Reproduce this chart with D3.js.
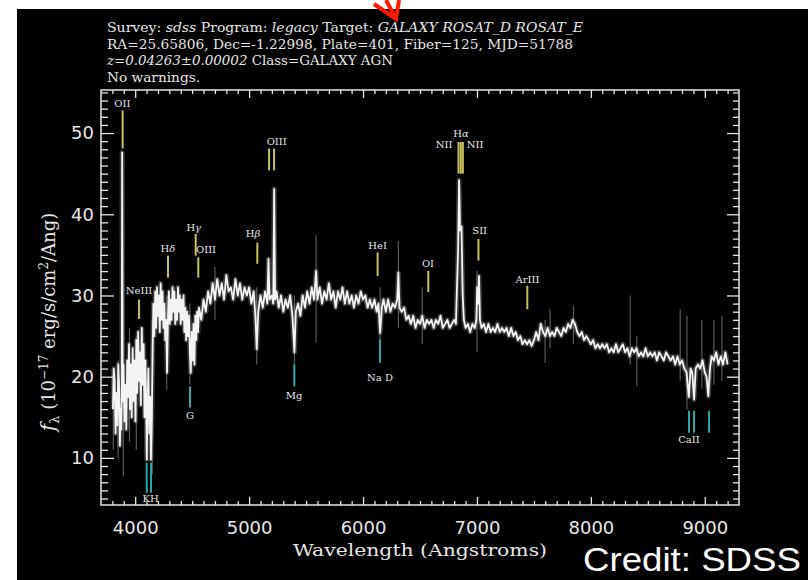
<!DOCTYPE html>
<html><head><meta charset="utf-8">
<script src="https://cdn.jsdelivr.net/npm/d3@7"></script>
<style>
html,body{margin:0;padding:0;background:#fff;}
svg{display:block;}
</style></head>
<body>
<svg id="c" width="808" height="580"></svg>
<script>
// ---------- data ----------
const wave = [
3805,3812,3820,3828,3836,3844,3852,3860,3866,3872,3878,3882,
3886,3891,3898,3906,3914,3922,3930,3938,3946,3954,3962,3970,
3978,3986,3994,4002,4010,4018,4026,4034,4042,4050,4058,4066,
4074,4082,4090,4096,4102,4108,4116,4124,4132,4138,4146,4154,
4160,4168,4176,4184,4192,4200,4208,4216,4224,4232,4240,4248,
4256,4264,4272,4280,4288,4296,4304,4312,4320,4328,4336,4344,
4352,4360,4368,4376,4384,4392,4400,4408,4416,4424,4432,4440,
4448,4456,4464,4472,4480,4488,4496,4504,4512,4520,4528,4536,
4544,4552,4560,4580,4600,
4620,4640,4660,4680,4700,4720,4740,4760,4780,4800,4820,4840,4860,4880,4900,4920,4940,4960,4980,5000,5020,5040,5055,5067,5080,5100,
5120,5140,5160,5170,5180,5200,5212,5220,5228,5240,5260,5280,5300,5320,5340,5360,5380,5398,5410,5430,5450,5470,5490,5510,5530,5550,
5570,5588,5600,5620,5640,5660,5680,5700,5720,5740,5760,5780,5800,5820,5840,5860,5880,5900,5920,5940,5960,5980,6000,6020,6040,6060,
6080,6100,6120,6135,6150,6165,6180,6200,6220,6240,6260,6280,6300,6310,6320,6340,6360,6380,6400,6420,6440,6460,6480,6500,6520,6540,
6560,6580,6600,6620,6640,6660,6680,6700,6720,6740,6760,6780,6800,6815,6827,6835,6843,6852,6864,6875,6885,6900,6920,6940,6960,6980,
6995,7002,7010,7018,7026,7040,7060,7080,7100,7120,7140,7160,7180,7200,7220,7240,7260,7280,7300,7320,7340,7360,7380,7400,7420,7440,
7460,7480,7500,7520,7540,7560,7580,7600,7620,7640,7660,7680,7700,7720,7740,7760,7780,7800,7820,7840,7860,7880,7900,7920,7940,7960,
7980,8000,8020,8040,8060,8080,8100,8120,8140,8160,8180,8200,8220,8240,8260,8280,8300,8320,8340,8360,8380,8400,8420,8440,8460,8480,
8500,8520,8540,8560,8580,8600,8620,8640,8660,8680,8700,8720,8740,8760,8780,8800,8820,8840,8860,8875,8890,8906,8920,8940,8960,8980,
9000,9015,9031,9045,9060,9080,9100,9120,9140,9160,9180,9200];
const flux = [
16.0,21.0,19.5,13.0,18.0,14.0,21.5,18.5,11.5,16.0,13.5,18.0,
47.6,17.0,21.5,14.5,19.0,13.5,22.0,17.5,24.0,16.0,21.5,15.0,
23.5,17.0,22.0,14.5,24.5,18.0,25.5,19.5,23.0,16.5,26.0,19.0,
24.0,15.0,22.0,17.0,9.8,16.0,21.0,13.0,17.5,9.8,15.0,24.0,
29.0,25.0,30.5,26.0,31.0,27.5,30.0,25.5,31.5,27.0,30.5,26.0,
29.0,24.5,27.0,20.5,27.5,30.5,26.5,29.5,27.0,31.0,28.0,30.5,
26.5,29.5,27.0,31.0,28.0,30.0,26.5,29.5,27.0,30.0,25.5,28.5,
24.5,28.0,25.0,27.5,23.0,20.5,25.5,22.0,26.5,21.5,27.5,24.5,
28.0,25.5,28.5,27.0,29.5,
28.0,30.5,29.0,31.5,29.5,32.0,30.0,31.5,29.5,32.5,30.5,31.0,29.5,32.0,30.0,31.5,29.5,31.0,30.0,31.0,29.0,30.5,27.5,23.4,28.0,30.0,
28.5,30.5,29.0,34.5,29.5,30.0,29.0,43.1,29.5,30.5,28.5,30.0,28.0,29.5,28.5,30.0,27.5,23.0,28.0,29.0,27.5,30.0,28.5,30.5,29.0,31.0,
29.5,33.0,29.5,31.0,29.0,30.5,29.5,31.5,29.5,30.5,28.5,30.5,29.5,31.0,29.0,30.5,29.0,30.0,28.5,30.0,29.0,30.5,29.5,30.0,28.5,29.5,
28.5,29.5,28.0,29.0,25.4,28.5,29.5,28.0,29.5,28.0,29.0,28.5,29.5,32.8,28.5,28.0,28.5,27.0,27.5,26.5,27.5,26.0,27.0,26.5,27.5,26.0,
27.0,26.5,27.0,26.0,27.0,26.5,27.5,26.0,26.5,27.0,26.0,26.5,27.0,26.5,32.0,36.0,44.2,38.0,38.5,30.0,27.0,26.0,26.5,25.5,26.5,26.0,
27.0,31.0,29.0,32.4,27.0,26.0,26.5,25.5,26.5,25.5,26.0,25.5,26.5,25.5,26.0,25.5,26.0,25.0,26.0,25.0,25.5,24.5,25.0,24.0,24.5,24.0,
24.5,23.8,24.5,25.5,24.5,26.5,25.5,25.0,26.0,25.0,25.5,25.0,26.0,25.5,25.0,26.0,25.5,26.5,26.0,27.0,26.5,25.5,25.0,25.5,24.5,25.0,
24.5,24.0,24.5,23.5,24.0,23.5,24.0,23.5,24.0,23.0,23.5,23.0,24.0,23.0,23.5,24.0,23.0,23.5,22.5,23.5,23.0,23.5,22.5,23.0,22.5,23.5,
22.5,23.0,22.5,23.0,22.0,23.0,22.5,22.0,23.0,22.5,22.0,22.5,21.5,22.5,21.5,22.0,21.0,20.5,17.5,21.0,20.5,17.2,21.0,21.5,21.0,22.0,
20.5,20.0,17.6,21.0,22.5,22.0,23.0,21.5,22.5,21.5,23.0,21.5];

// grey noise spikes (wavelength, low, high)
const noiseWave = [3808,3850,3896,3950,4010,4150,4277,4480,4700,5067,5398,5588,6150,6310,6520,7000,7598,7642,7847,8345,8403,8784,8843,8974,9080,9150];
const noiseLo   = [11,10,7.7,12,11,8,18.4,19,27,21.5,21,24.2,22,26,24,23,21.7,23.5,24,21.5,18.8,19.5,16,18.5,19,19.5];
const noiseHi   = [21,22,20,26,25,27,30,29,33.5,31,30,37.4,31,36.7,31,33,27,28.3,28.7,30,25,28.3,27.5,27,27,27.5];

// emission line markers (yellow)
const emisWaves = [[3890],[4034],[4288],[4531],[4554],[5072],[5175,5219],[6128],[6573],[6838,6858,6876],[7013],[7442]];
const emisLo    = [48.1,27.1,32.2,34.9,32.2,33.9,45.4,32.4,30.4,45.0,34.3,28.3];
const emisHi    = [52.8,29.5,34.9,37.6,34.7,36.5,48.1,35.3,33.05,48.9,36.95,31.2];
// absorption line markers (cyan)
const absWaves = [[4101,4139],[4481],[5397],[6149],[8861,8905,9037]];
const absLo    = [5.7,16.2,18.8,21.7,13.1];
const absHi    = [9.4,18.8,21.5,24.6,15.8];
// marker labels
const labelText = ["OII","NeIII","H|δ","H|γ","OIII","H|β","OIII","HeI","OI","NII","H|α","NII","SII","ArIII","KH","G","Mg","Na D","CaII"];
const labelWave = [3887,4034,4288,4514,4622,5034,5242,6128,6570,6711,6860,6983,7024,7444,4136,4481,5394,6149,8861];
const labelVal  = [53.6,30.6,35.8,38.4,35.7,37.6,48.9,36.1,33.95,48.6,49.95,48.6,38.0,32.0,5.06,15.2,17.7,19.9,12.3];

const xMajor = [4000,5000,6000,7000,8000,9000];
const yMajor = [10,20,30,40,50];

// ---------- drawing ----------
const svg = d3.select("#c");
svg.append("rect").attr("x",17).attr("y",9).attr("width",791).attr("height",571).attr("fill","#000");

const x = d3.scaleLinear().domain([3700,9300]).range([101,739]);
const y = d3.scaleLinear().domain([4.2,55.3]).range([505,90]);

const fg = "#e6e6e6";
const serif = "'DejaVu Serif', serif";
const sans = "'DejaVu Sans', sans-serif";

// header
const header = svg.append("g").attr("fill",fg).attr("font-family",serif).attr("font-size",13);
function headerLine(yy, parts, len){
  const t = header.append("text").attr("x",107).attr("y",yy).attr("textLength",len).attr("lengthAdjust","spacingAndGlyphs");
  parts.forEach(p=>t.append("tspan").attr("font-style",p[1]?"italic":"normal").text(p[0]));
}
headerLine(32,[["Survey: ",0],["sdss",1],[" Program: ",0],["legacy",1],[" Target: ",0],["GALAXY ROSAT_D ROSAT_E",1]],476);
headerLine(48.5,[["RA=25.65806, Dec=-1.22998, Plate=401, Fiber=125, MJD=51788",0]],466);
headerLine(65,[["z=0.04263±0.00002",1],[" Class=GALAXY AGN",0]],286);
headerLine(82,[["No warnings.",0]],93);

// red arrow (annotation fragment)
svg.append("path").attr("d","M374,4 L396,19 L399,0").attr("fill","none").attr("stroke","#ff1a00").attr("stroke-width",4).attr("stroke-linejoin","miter");
svg.append("path").attr("d","M396,19 L386,0").attr("fill","none").attr("stroke","#ff1a00").attr("stroke-width",4);

// noise spikes
svg.append("g").selectAll("line").data(noiseWave).join("line")
  .attr("x1",d=>x(d)).attr("x2",d=>x(d))
  .attr("y1",(d,i)=>y(noiseLo[i])).attr("y2",(d,i)=>y(noiseHi[i]))
  .attr("stroke","#5a5a5a").attr("stroke-width",1.2);

// spectrum
const pts = wave.map((w,i)=>[w,flux[i]]);
const line = d3.line().x(d=>x(d[0])).y(d=>y(d[1]));
svg.append("path").datum(pts).attr("d",line).attr("fill","none").attr("stroke","#808080").attr("stroke-width",5).attr("opacity",0.45).attr("stroke-linejoin","round");
svg.append("path").datum(pts).attr("d",line).attr("fill","none").attr("stroke","#f4f4f4").attr("stroke-width",1.8).attr("stroke-linejoin","round");

// markers
const mk = svg.append("g");
emisWaves.forEach((ws,i)=>ws.forEach(w=>mk.append("line").attr("x1",x(w)).attr("x2",x(w)).attr("y1",y(emisLo[i])).attr("y2",y(emisHi[i])).attr("stroke","#c8c25c").attr("stroke-width",2)));
absWaves.forEach((ws,i)=>ws.forEach(w=>mk.append("line").attr("x1",x(w)).attr("x2",x(w)).attr("y1",y(absLo[i])).attr("y2",y(absHi[i])).attr("stroke","#2aa8a8").attr("stroke-width",2)));
const lab = svg.append("g").attr("fill",fg).attr("font-family",serif).attr("font-size",10).attr("text-anchor","middle");
labelText.forEach((s,i)=>{
  const t = lab.append("text").attr("x",x(labelWave[i])).attr("y",y(labelVal[i])).attr("dy","0.35em");
  const parts = s.split("|");
  t.append("tspan").text(parts[0]);
  if(parts[1]) t.append("tspan").attr("font-style","italic").text(parts[1]);
});

// axes (ticks inside)
const xMinor = d3.range(3800,9300,100).filter(v=>!xMajor.includes(v));
const yMinor = d3.range(5,56,1).filter(v=>!yMajor.includes(v));
function styleAxis(g){ g.select(".domain").remove(); g.selectAll("line").attr("stroke",fg).attr("stroke-width",1.3); g.selectAll("text").attr("fill",fg); }
svg.append("g").attr("transform","translate(0,505)").call(d3.axisBottom(x).tickValues(xMajor).tickSize(-8).tickPadding(16).tickFormat(d3.format("d")))
  .call(styleAxis).attr("font-family",sans).attr("font-size",18);
svg.append("g").attr("transform","translate(0,505)").call(d3.axisBottom(x).tickValues(xMinor).tickSize(-4).tickFormat("")).call(styleAxis);
svg.append("g").attr("transform","translate(0,90)").call(d3.axisTop(x).tickValues(xMajor).tickSize(-8).tickFormat("")).call(styleAxis);
svg.append("g").attr("transform","translate(0,90)").call(d3.axisTop(x).tickValues(xMinor).tickSize(-4).tickFormat("")).call(styleAxis);
svg.append("g").attr("transform","translate(101,0)").call(d3.axisLeft(y).tickValues(yMajor).tickSize(-13).tickPadding(7))
  .call(styleAxis).attr("font-family",sans).attr("font-size",18);
svg.append("g").attr("transform","translate(101,0)").call(d3.axisLeft(y).tickValues(yMinor).tickSize(-7).tickFormat("")).call(styleAxis);
svg.append("g").attr("transform","translate(739,0)").call(d3.axisRight(y).tickValues(yMajor).tickSize(-12).tickFormat("")).call(styleAxis);
svg.append("g").attr("transform","translate(739,0)").call(d3.axisRight(y).tickValues(yMinor).tickSize(-6).tickFormat("")).call(styleAxis);

// frame
svg.append("rect").attr("x",101).attr("y",90).attr("width",638).attr("height",415).attr("fill","none").attr("stroke",fg).attr("stroke-width",1.5);

// axis titles
svg.append("text").attr("x",420).attr("y",556).attr("text-anchor","middle").attr("fill",fg)
  .attr("font-family",serif).attr("font-size",17).attr("textLength",254).attr("lengthAdjust","spacingAndGlyphs").text("Wavelength (Angstroms)");
const yt = svg.append("text").attr("transform","translate(55,322) rotate(-90)").attr("text-anchor","middle").attr("fill",fg)
  .attr("font-family",serif).attr("font-size",18);
yt.append("tspan").attr("font-style","italic").attr("font-size",20).text("f");
yt.append("tspan").attr("dy",4).attr("font-size",13).text("λ");
yt.append("tspan").attr("dy",-4).text(" (10");
yt.append("tspan").attr("dy",-7).attr("font-size",12).text("−17");
yt.append("tspan").attr("dy",7).text(" erg/s/cm");
yt.append("tspan").attr("dy",-7).attr("font-size",12).text("2");
yt.append("tspan").attr("dy",7).text("/Ang)");

// credit
svg.append("text").attr("x",583).attr("y",571).attr("fill","#fff").attr("font-family","'Liberation Sans', Arial, sans-serif")
  .attr("font-size",33).attr("textLength",218).attr("lengthAdjust","spacingAndGlyphs").text("Credit: SDSS");
</script>
</body></html>
